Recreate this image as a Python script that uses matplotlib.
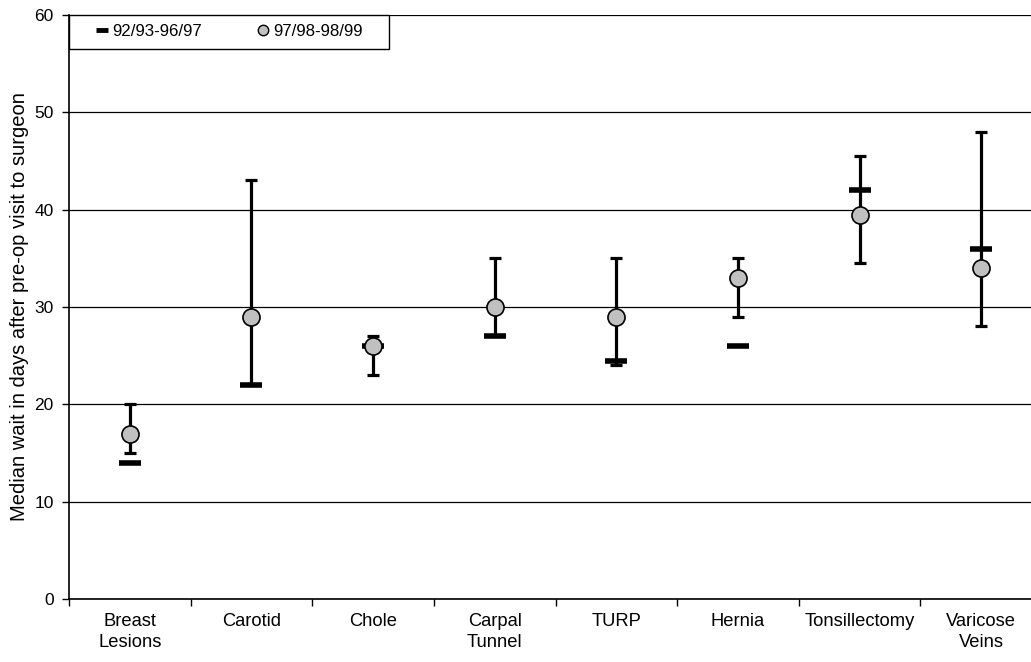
import matplotlib
matplotlib.use("Agg")
import matplotlib.pyplot as plt
from matplotlib.lines import Line2D
from matplotlib.patches import Rectangle
import numpy as np

plt.rcParams['font.family'] = ['Liberation Sans', 'DejaVu Sans']

categories = ["Breast\nLesions", "Carotid", "Chole", "Carpal\nTunnel", "TURP",
              "Hernia", "Tonsillectomy", "Varicose\nVeins"]
old_period = [14, 22, 26, 27, 24.5, 26, 42, 36]          # 92/93-96/97
new_period = [17, 29, 26, 30, 29, 33, 39.5, 34]          # 97/98-98/99
range_low = [15, 22, 23, 27, 24, 29, 34.5, 28]
range_high = [20, 43, 27, 35, 35, 35, 45.5, 48]
yticks = [0, 10, 20, 30, 40, 50, 60]
label_old = "92/93-96/97"
label_new = "97/98-98/99"
ylabel = "Median wait in days after pre-op visit to surgeon"

W, H = 1031, 662
fig = plt.figure(figsize=(W / 100, H / 100), dpi=100)
left, right, top, bottom = 69, 1042, 15, 599
ax = fig.add_axes([left / W, 1 - bottom / H, (right - left) / W, (bottom - top) / H])

x = np.arange(len(categories))
new = np.array(new_period)
low = np.array(range_low)
high = np.array(range_high)

ax.errorbar(x, new, yerr=[new - low, high - new], fmt='none', ecolor='black',
            elinewidth=2.3, capsize=4, capthick=2.3, zorder=3)
ax.plot(x, old_period, linestyle='none', marker='_', markersize=16,
        markeredgewidth=4, color='black', zorder=4)
ax.plot(x, new_period, linestyle='none', marker='o', markersize=12.3,
        markerfacecolor='#c0c0c0', markeredgecolor='black', markeredgewidth=1.2,
        zorder=5)

ax.set_xlim(-0.5, len(categories) - 0.5)
ax.set_ylim(0, 60)
ax.set_yticks(yticks)
ax.yaxis.grid(True, color='black', linewidth=0.9)
ax.set_axisbelow(True)
ax.set_xticks(x)
ax.set_xticklabels(categories, fontsize=13.2, linespacing=1.3)
ax.set_xticks(np.arange(len(categories) + 1) - 0.5, minor=True)
ax.tick_params(axis='x', which='major', length=0, pad=10)
ax.tick_params(axis='x', which='minor', length=5, width=1, direction='out')
ax.tick_params(axis='y', length=5, width=1, direction='out', labelsize=12.5, pad=6)

for s in ['top', 'right']:
    ax.spines[s].set_visible(False)
ax.spines['left'].set_linewidth(1.2)
ax.spines['bottom'].set_linewidth(1.2)

ax.set_ylabel(ylabel, fontsize=14.5, labelpad=4)

# legend frame
axw = right - left
axh = bottom - top
ax.add_patch(Rectangle((0, 1 - (49 - 15) / axh), (389 - 69) / axw, (49 - 15) / axh,
                       transform=ax.transAxes, facecolor='white', edgecolor='black',
                       linewidth=1.0, clip_on=False, zorder=6))
handles = [
    Line2D([], [], linestyle='none', marker='_', markersize=9, markeredgewidth=3.5,
           color='black'),
    Line2D([], [], linestyle='none', marker='o', markersize=7.5,
           markerfacecolor='#c0c0c0', markeredgecolor='black', markeredgewidth=1.0),
]
leg = ax.legend(handles, [label_old, label_new], ncol=2, frameon=False,
                loc='center left',
                bbox_to_anchor=((94 - 69) / axw, 1 - (31.5 - 15) / axh),
                borderaxespad=0, borderpad=0, handlelength=0.9, handletextpad=0.15,
                columnspacing=3.2, fontsize=12.2)
leg.set_zorder(7)

fig.savefig("out.png", dpi=100)
